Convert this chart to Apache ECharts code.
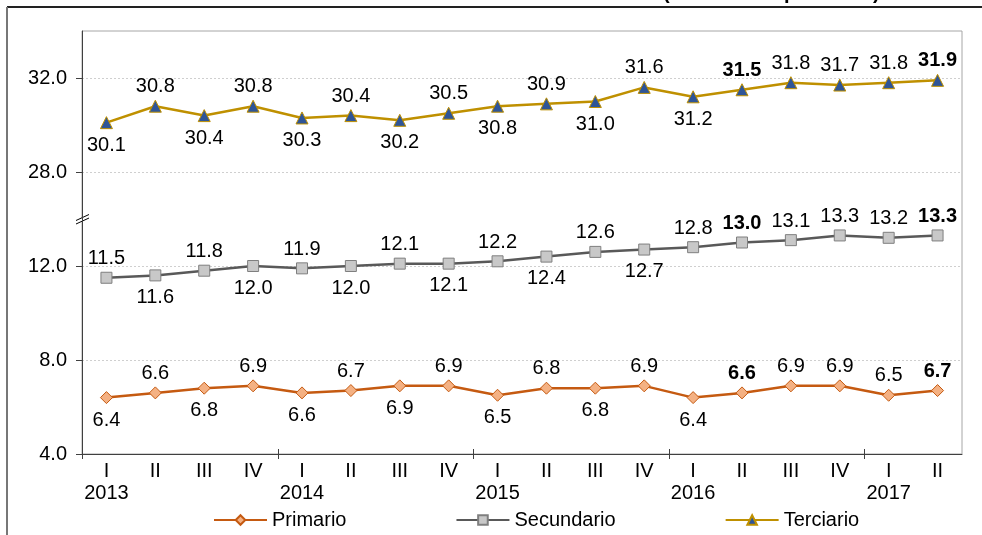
<!DOCTYPE html>
<html>
<head>
<meta charset="utf-8">
<style>
html,body{margin:0;padding:0;background:#fff;}
#chart{width:982px;height:535px;}
</style>
<script src="https://cdn.jsdelivr.net/npm/echarts@6/dist/echarts.min.js"></script>
</head>
<body>
<div id="chart"></div>
<script>
// ---- data ----
const quarters = ['I','II','III','IV','I','II','III','IV','I','II','III','IV','I','II','III','IV','I','II'];
const years    = ['2013','','','','2014','','','','2015','','','','2016','','','','2017',''];
const primario   = [6.4,6.6,6.8,6.9,6.6,6.7,6.9,6.9,6.5,6.8,6.8,6.9,6.4,6.6,6.9,6.9,6.5,6.7];
const secundario = [11.5,11.6,11.8,12.0,11.9,12.0,12.1,12.1,12.2,12.4,12.6,12.7,12.8,13.0,13.1,13.3,13.2,13.3];
const terciario  = [30.1,30.8,30.4,30.8,30.3,30.4,30.2,30.5,30.8,30.9,31.0,31.6,31.2,31.5,31.8,31.7,31.8,31.9];
const yTickValues = [4,8,12,16,20];      // axis positions (upper part shifted by the break)
const breakShift = 12;                    // values above the break are drawn shifted down by 12
const breakAt = 14;                       // axis position of the break mark
const boldIdx = [13,17];

// label placement (style)
const T='top', B='bottom';
const primPos = [B,T,B,T,B,T,B,T,B,T,B,T,B,T,T,T,T,T];
const secPos  = [T,B,T,B,T,B,T,B,T,B,T,B,T,T,T,T,T,T];
const terPos  = [B,T,B,T,B,T,B,T,B,T,B,T,B,T,T,T,T,T];

const FONT = '"Liberation Sans", Arial, sans-serif';
const FS = 20;

function mk(vals, pos, shift){
  return vals.map((v,i)=>({
    value: v - shift,
    label:{position: pos[i], distance: pos[i]===T ? 3 : 6,
           fontWeight: boldIdx.includes(i)?'bold':'normal'}
  }));
}

const chart = echarts.init(document.getElementById('chart'), null, {renderer:'canvas'});

const labelBase = {show:true, fontSize:FS, fontFamily:FONT, color:'#000'};

const option = {
  animation:false,
  backgroundColor:'#fff',
  grid:{left:82, top:31, right:20, bottom:81, show:true, borderColor:'#a6a6a6', borderWidth:1},
  legend:{
    data:['Primario','Secundario','Terciario'],
    left:208, top:505, itemWidth:53, itemHeight:12, itemGap:109,
    textStyle:{fontSize:FS, fontFamily:FONT, color:'#000'}
  },
  xAxis:{
    type:'category', data:quarters, boundaryGap:true, position:'bottom',
    axisLine:{onZero:false, lineStyle:{color:'#404040', width:1}},
    axisTick:{show:false},
    axisLabel:{interval:0, fontSize:FS, fontFamily:FONT, color:'#000', margin:6, lineHeight:22,
      formatter:(v,i)=> years[i] ? v+'\n'+years[i] : v}
  },
  yAxis:{
    type:'value', min:4, max:22, interval:4,
    axisLine:{show:true, lineStyle:{color:'#404040', width:1}},
    axisTick:{show:true, length:6, customValues:yTickValues, lineStyle:{color:'#404040'}},
    axisLabel:{fontSize:FS, fontFamily:FONT, color:'#000', margin:15,
      customValues:yTickValues,
      formatter:(v)=> v>22-0.001 ? '' : (v>breakAt ? v+breakShift : v).toFixed(1)},
    splitLine:{show:true, lineStyle:{color:'#cfcfcf', width:1, type:[2,2]}}
  },
  series:[{
    name:'Primario', type:'line', data:mk(primario,primPos,0),
    symbol:'diamond', symbolSize:12,
    lineStyle:{color:'#C55A11', width:2.5},
    itemStyle:{color:'#F4B183', borderColor:'#C55A11', borderWidth:1},
    label:Object.assign({}, labelBase, {formatter:p=>primario[p.dataIndex].toFixed(1)})
  },{
    name:'Secundario', type:'line', data:mk(secundario,secPos,0),
    symbol:'rect', symbolSize:11,
    lineStyle:{color:'#595959', width:2.5},
    itemStyle:{color:'#C8C8C8', borderColor:'#7F7F7F', borderWidth:1},
    label:Object.assign({}, labelBase, {formatter:p=>secundario[p.dataIndex].toFixed(1)})
  },{
    name:'Terciario', type:'line', data:mk(terciario,terPos,breakShift),
    symbol:'triangle', symbolSize:12,
    lineStyle:{color:'#BF9000', width:2.5},
    itemStyle:{color:'#2F5597', borderColor:'#BF9000', borderWidth:1},
    label:Object.assign({}, labelBase, {formatter:p=>terciario[p.dataIndex].toFixed(1)})
  }]
};
chart.setOption(option);

// decorations: outer frame, clipped title, axis-break mark, year-boundary ticks
const bp = chart.convertToPixel({yAxisIndex:0}, breakAt);
const y0 = chart.convertToPixel({yAxisIndex:0}, 4);
const x0 = chart.convertToPixel({xAxisIndex:0}, 0);
const x1 = chart.convertToPixel({xAxisIndex:0}, 1);
const half = (x1 - x0) / 2;
const ax = x0 - half;
const g = [
  {type:'line', shape:{x1:7,y1:7,x2:982,y2:7}, style:{stroke:'#222', lineWidth:2}},
  {type:'line', shape:{x1:7,y1:7,x2:7,y2:535}, style:{stroke:'#777', lineWidth:2}},
  {type:'text', x:663, y:-7, style:{text:'(Millones de personas)', font:'bold 20px '+FONT, fill:'#000', verticalAlign:'middle'}},
  {type:'polygon', shape:{points:[[ax-6,bp+2],[ax+7,bp-4],[ax+7,bp-1],[ax-6,bp+5]]}, style:{fill:'#fff'}},
  {type:'line', shape:{x1:ax-6,y1:bp+1.5,x2:ax+7,y2:bp-4.5}, style:{stroke:'#000', lineWidth:1}},
  {type:'line', shape:{x1:ax-6,y1:bp+5,x2:ax+7,y2:bp-1}, style:{stroke:'#000', lineWidth:1}}
];
years.forEach((y,i)=>{
  if(!y) return;
  const xx = Math.round(chart.convertToPixel({xAxisIndex:0}, i) - half) + 0.5;
  g.push({type:'line', shape:{x1:xx,y1:y0-5,x2:xx,y2:y0+5}, style:{stroke:'#404040', lineWidth:1}});
});
chart.setOption({graphic:g});
</script>
</body>
</html>
